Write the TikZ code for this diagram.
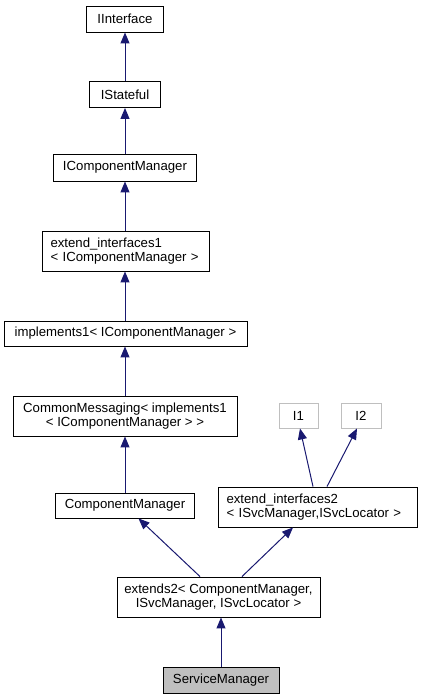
\documentclass[tikz,border=0pt]{standalone}
\usepackage{fontspec}
\setmainfont{Liberation Sans}
\usetikzlibrary{arrows.meta}
\definecolor{edgecol}{HTML}{191970}
\definecolor{greyb}{HTML}{BFBFBF}
\newcommand{\dxfont}{\fontsize{13.2}{14.7}\selectfont}
\begin{document}
\begin{tikzpicture}[x=1pt,y=-1pt,
  box/.style={draw=black, fill=white, line width=0.9pt, inner sep=0pt, font=\dxfont},
  ghost/.style={box, draw=greyb},
  lbox/.style={box, align=left, inner xsep=8.5pt},
  cbox/.style={box, align=center},
  edge/.style={draw=edgecol, line width=1pt, -{Triangle[length=11pt,width=9pt]}}]
\useasboundingbox (0,0) rectangle (421,699);
\node[box, minimum width=77, minimum height=26] (iif) at (125,19) {IInterface};
\node[box, minimum width=71, minimum height=26] (ist) at (125,94.5) {IStateful};
\node[box, minimum width=143, minimum height=27] (icm) at (125,167.5) {IComponentManager};
\node[lbox, minimum width=167, minimum height=40, text width=150] (ext1) at (125.5,251) {extend\_interfaces1\\\textless{} IComponentManager \textgreater{}};
\node[box, minimum width=243, minimum height=25] (impl) at (125.5,333.5) {implements1\textless{} IComponentManager \textgreater{}};
\node[cbox, minimum width=224, minimum height=40] (cmsg) at (125,416) {CommonMessaging\textless{} implements1\\\textless{} IComponentManager \textgreater{} \textgreater{}};
\node[ghost, minimum width=39, minimum height=25] (ione) at (298.5,415.5) {I1};
\node[ghost, minimum width=40, minimum height=25] (itwo) at (361,415.5) {I2};
\node[box, minimum width=139, minimum height=25] (cm) at (125,505.5) {ComponentManager};
\node[lbox, minimum width=199, minimum height=40, text width=182] (ext2) at (317.5,507) {extend\_interfaces2\\\textless{} ISvcManager,ISvcLocator \textgreater{}};
\node[cbox, minimum width=203, minimum height=40] (extwo) at (218.5,597) {extends2\textless{} ComponentManager,\\ISvcManager, ISvcLocator \textgreater{}};
\node[box, fill=greyb, minimum width=116, minimum height=26] (sm) at (221,680) {ServiceManager};
\draw[edge] (ist.north) -- (iif.south);
\draw[edge] (icm.north) -- (icm.north |- ist.south);
\draw[edge] (ext1.north -| icm.south) -- (icm.south);
\draw[edge] (impl.north -| icm.south) -- (ext1.south -| icm.south);
\draw[edge] (cmsg.north -| icm.south) -- (impl.south -| icm.south);
\draw[edge] (cm.north -| icm.south) -- (cmsg.south -| icm.south);
\draw[edge] ([xshift=-4.5pt]ext2.north) -- ([xshift=1.5pt]ione.south);
\draw[edge] ([xshift=9.5pt]ext2.north) -- ([xshift=-4pt]itwo.south);
\draw[edge] ([xshift=-18.5pt]extwo.north) -- ([xshift=13.5pt]cm.south);
\draw[edge] ([xshift=23.5pt]extwo.north) -- ([xshift=-24.5pt]ext2.south);
\draw[edge] (sm.north -| 221,0) -- (extwo.south -| 221,0);
\end{tikzpicture}
\end{document}
